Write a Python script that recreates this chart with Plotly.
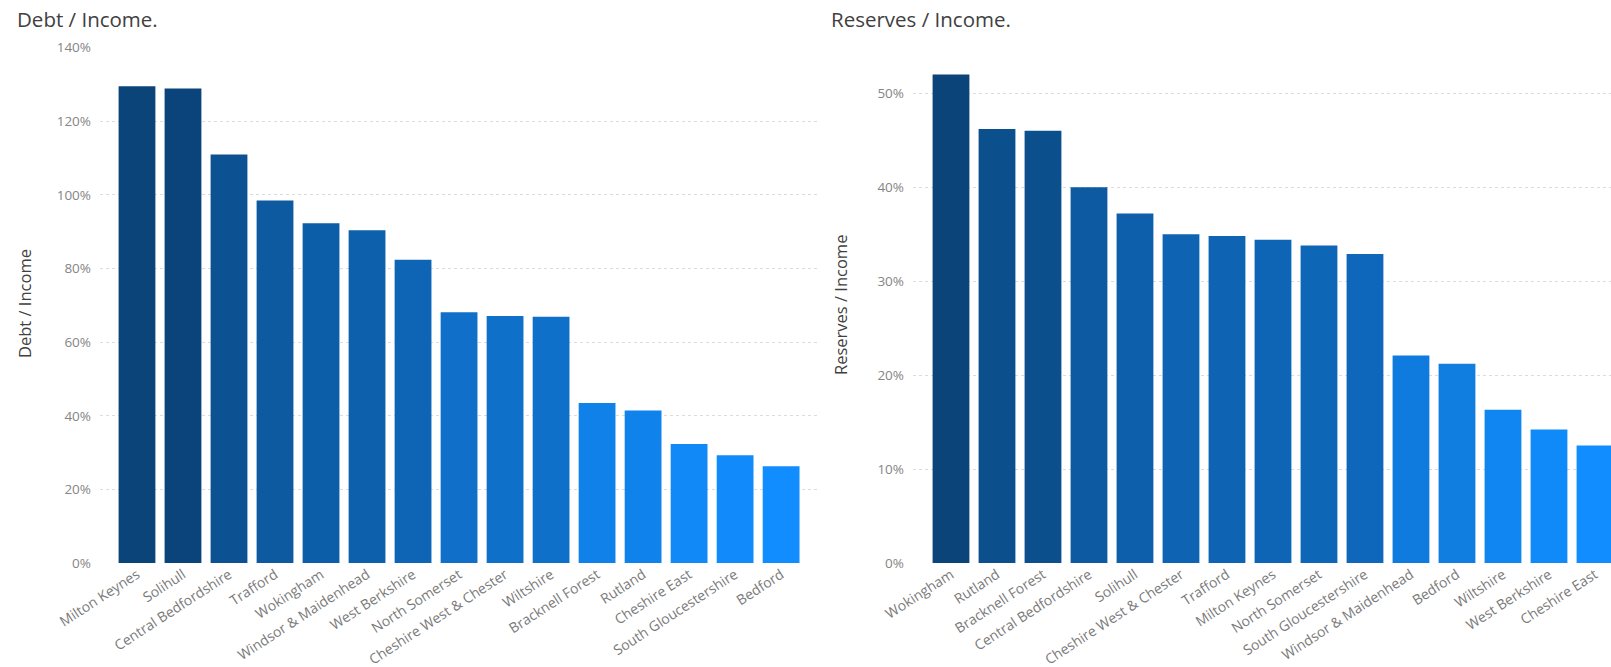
import plotly.graph_objects as go

W, H = 1611, 667

debt_categories = ["Milton Keynes", "Solihull", "Central Bedfordshire", "Trafford", "Wokingham",
                   "Windsor & Maidenhead", "West Berkshire", "North Somerset", "Cheshire West & Chester",
                   "Wiltshire", "Bracknell Forest", "Rutland", "Cheshire East", "South Gloucestershire",
                   "Bedford"]
debt_values = [1.295, 1.289, 1.110, 0.985, 0.923, 0.904, 0.824, 0.681, 0.671,
               0.669, 0.435, 0.414, 0.323, 0.293, 0.263]

reserves_categories = ["Wokingham", "Rutland", "Bracknell Forest", "Central Bedfordshire", "Solihull",
                       "Cheshire West & Chester", "Trafford", "Milton Keynes", "North Somerset",
                       "South Gloucestershire", "Windsor & Maidenhead", "Bedford", "Wiltshire",
                       "West Berkshire", "Cheshire East"]
reserves_values = [0.520, 0.462, 0.460, 0.400, 0.372, 0.350, 0.348, 0.344, 0.338,
                   0.329, 0.221, 0.212, 0.163, 0.142, 0.125]

DARK = (11, 68, 121)
LIGHT = (17, 141, 255)


def grad(vals):
    lo, hi = min(vals), max(vals)
    out = []
    for v in vals:
        t = (v - lo) / (hi - lo)
        c = [round(LIGHT[i] + (DARK[i] - LIGHT[i]) * t) for i in range(3)]
        out.append("rgb(%d,%d,%d)" % tuple(c))
    return out


FONT = "Open Sans"
fig = go.Figure()
fig.add_trace(go.Bar(x=debt_categories, y=debt_values, marker=dict(color=grad(debt_values), line_width=0),
                     xaxis="x", yaxis="y", showlegend=False))
fig.add_trace(go.Bar(x=reserves_categories, y=reserves_values,
                     marker=dict(color=grad(reserves_values), line_width=0),
                     xaxis="x2", yaxis="y2", showlegend=False))

ybot = 104 / H
ytop = (H - 47.7) / H

common_x = dict(showgrid=False, zeroline=False, showline=False, ticks="", tickangle=-33,
                tickfont=dict(family=FONT, size=14, color="#7a7a7a"), type="category",
                automargin=False)
common_y = dict(showgrid=True, gridcolor="#dcdcdc", griddash="dot", gridwidth=1.3, zeroline=False,
                showline=False, ticks="", tickformat=".0%", automargin=False,
                tickfont=dict(family=FONT, size=13.5, color="#858585"), ticklabelstandoff=8)

fig.update_layout(
    width=W, height=H, margin=dict(l=0, r=0, t=0, b=0, autoexpand=False),
    paper_bgcolor="white", plot_bgcolor="white", bargap=0.2,
    xaxis=dict(domain=[100 / W, 817 / W], range=[-0.804, 14.78], anchor="y", **common_x),
    yaxis=dict(domain=[ybot, ytop], range=[0, 1.4], dtick=0.2, anchor="x", **common_y),
    xaxis2=dict(domain=[913 / W, 1.0], range=[-0.826, 14.348], anchor="y2", **common_x),
    yaxis2=dict(domain=[ybot, ytop], range=[0, 0.5485], dtick=0.1, anchor="x2", **common_y),
)

annots = [
    dict(text="Debt / Income.", x=15 / W, y=1 - 19 / H, xanchor="left", yanchor="middle",
         font=dict(family=FONT, size=20.5, color="#404040")),
    dict(text="Reserves / Income.", x=829 / W, y=1 - 19 / H, xanchor="left", yanchor="middle",
         font=dict(family=FONT, size=20.5, color="#404040")),
    dict(text="Debt / Income", x=25 / W, y=1 - 304 / H, xanchor="center", yanchor="middle", textangle=-90,
         font=dict(family=FONT, size=16.5, color="#404040")),
    dict(text="Reserves / Income", x=840 / W, y=1 - 305 / H, xanchor="center", yanchor="middle", textangle=-90,
         font=dict(family=FONT, size=16.5, color="#404040")),
]
for a in annots:
    a.update(xref="paper", yref="paper", showarrow=False)
fig.update_layout(annotations=annots)

fig.write_html("out.html")
